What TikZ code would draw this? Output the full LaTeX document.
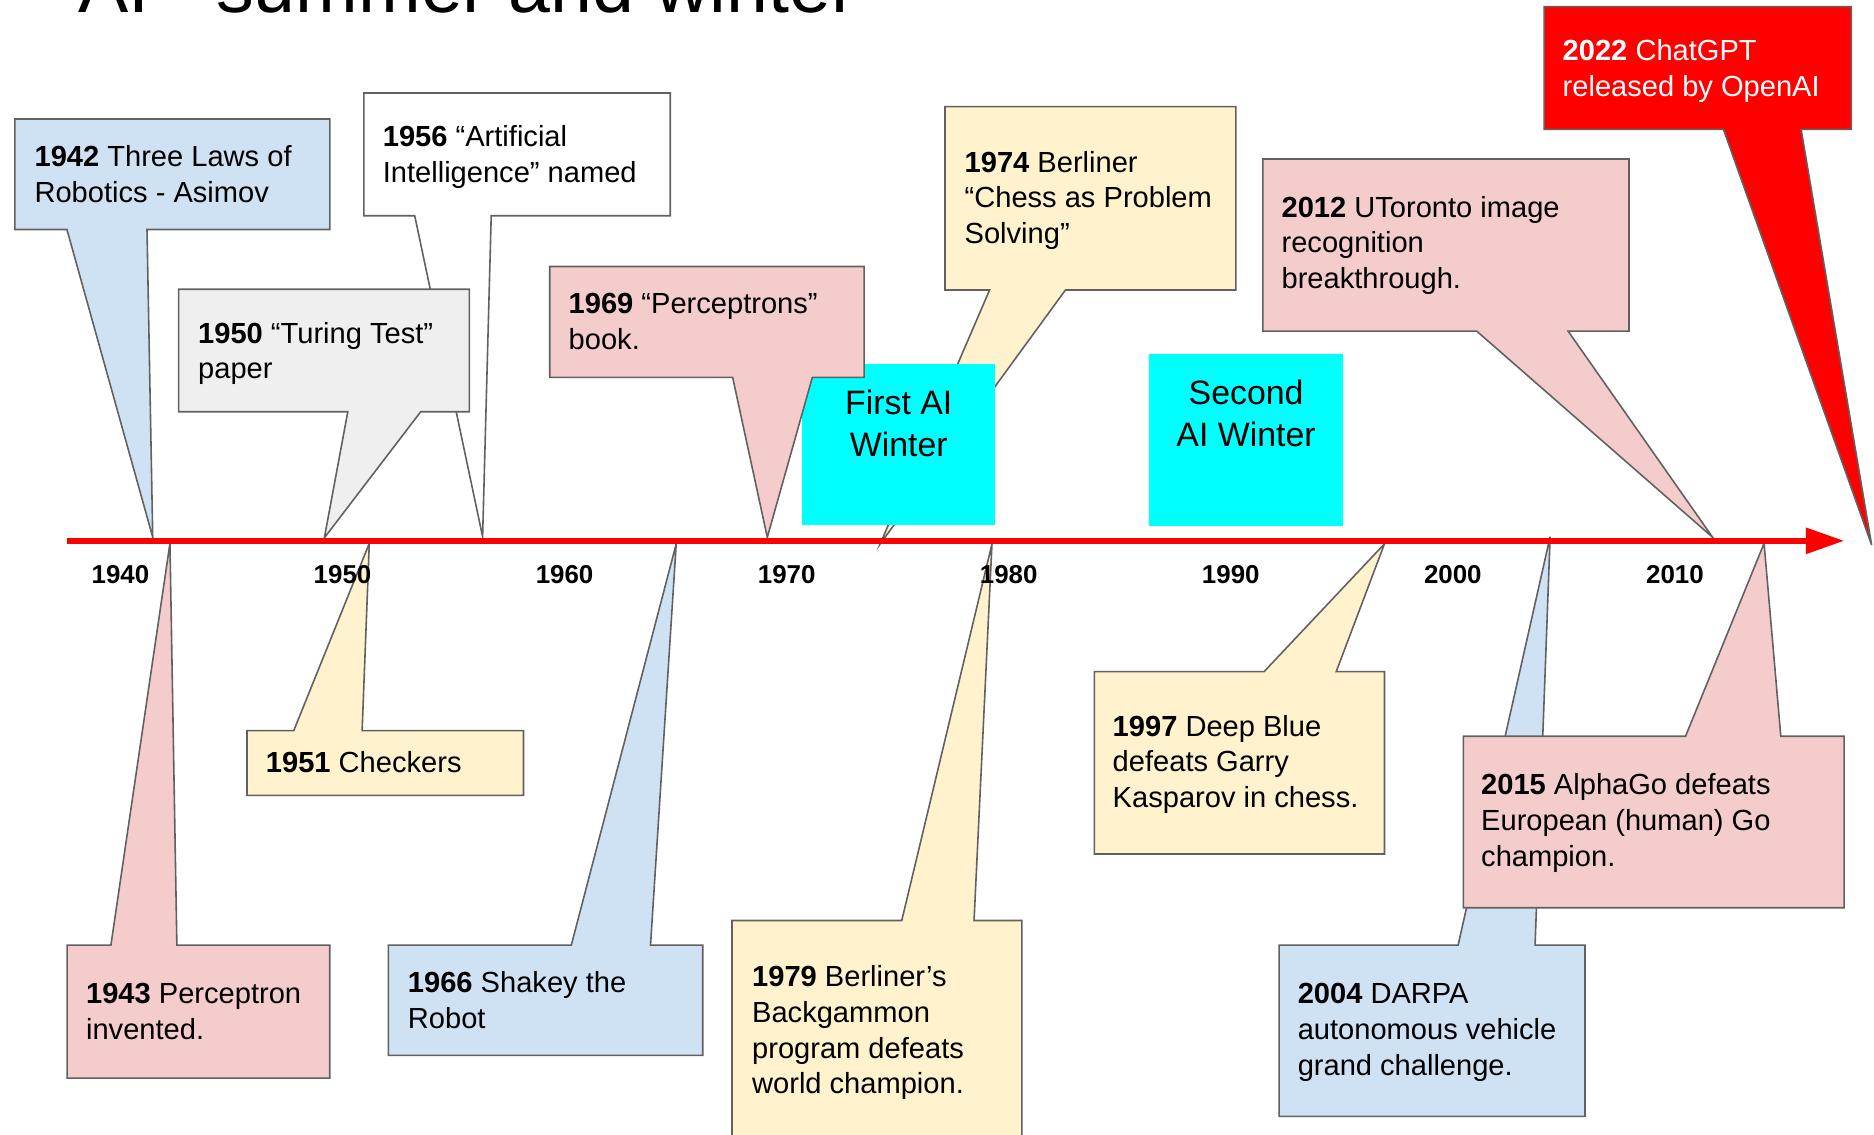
\documentclass[tikz,border=0pt]{standalone}
\usepackage{fontspec}
\setmainfont{Liberation Sans}
\definecolor{cblue}{HTML}{CFE2F3}
\definecolor{cpink}{HTML}{F4CCCC}
\definecolor{cyell}{HTML}{FFF2CC}
\definecolor{cgray}{HTML}{EFEFEF}
\definecolor{cline}{HTML}{616161}
\definecolor{wcyan}{HTML}{00FFFF}
\definecolor{tred}{HTML}{FF0000}
\newcommand{\cstrut}{\rule{0pt}{10.8pt}}
\newcommand{\wstrut}{\rule{0pt}{12.4pt}}
\begin{document}
\begin{tikzpicture}[x=0.6pt,y=-0.6pt,
  bubble/.style={draw=cline, line width=0.8pt, line join=miter},
  txt/.style={anchor=north west, inner sep=0pt, align=left, font=\fontsize{14.6}{18}\selectfont},
  yr/.style={anchor=base, inner sep=0pt, font=\fontsize{13}{15}\selectfont\bfseries},
  wintxt/.style={anchor=north, inner sep=0pt, align=center, font=\fontsize{17}{20.8}\selectfont},
  winbox/.style={fill=wcyan}]
\useasboundingbox (0,0) rectangle (1568,949);
\clip (0,0) rectangle (1568,949);

% title
\node[anchor=base west, inner sep=0pt, font=\fontsize{37.8}{40}\selectfont] (title) at (65,10.6) {AI - summer and winter};

% tips
\coordinate (t1942) at (127.8,449.5);
\coordinate (t1956) at (403.8,449);
\coordinate (t1950) at (271.4,450);
\coordinate (t1969) at (642,449.6);
\coordinate (t1974) at (736.5,455);
\coordinate (t2012) at (1433,449.6);
\coordinate (t2022) at (1566,456);
\coordinate (t1943) at (142.2,454.6);
\coordinate (t1951) at (309,454.6);
\coordinate (t1966) at (565.8,455);
\coordinate (t1979) at (830,455);
\coordinate (t1997) at (1158.4,455);
\coordinate (t2004) at (1297,449);
\coordinate (t2015) at (1476,454.6);

% ---- callouts above the axis
\filldraw[bubble, fill=cblue] (12.5,99.6) -- (276,99.6) -- (276,192) -- (123,192) -- (t1942) -- (56,192) -- (12.5,192) -- cycle;
\node[txt] (n1942) at (28.6,121) {\cstrut\textbf{1942} Three Laws of\\Robotics - Asimov};

\filldraw[bubble, fill=white] (304.5,77.8) -- (560.8,77.8) -- (560.8,180.5) -- (411,180.5) -- (t1956) -- (347,180.5) -- (304.5,180.5) -- cycle;
\node[txt] (n1956) at (320,104) {\cstrut\textbf{1956} “Artificial\\Intelligence” named};

\filldraw[bubble, fill=cgray] (149.5,242) -- (392.7,242) -- (392.7,344.5) -- (352,344.5) -- (t1950) -- (291,344.5) -- (149.5,344.5) -- cycle;
\node[txt] (n1950) at (165.5,268.7) {\cstrut\textbf{1950} “Turing Test”\\paper};

\filldraw[bubble, fill=cyell] (790.7,89.2) -- (1034,89.2) -- (1034,242.6) -- (891.5,242.6) -- (t1974) -- (828,242.6) -- (790.7,242.6) -- cycle;
\node[txt] (n1974) at (806.8,125.6) {\cstrut\textbf{1974} Berliner\\“Chess as Problem\\Solving”};

\fill[winbox] (671,304.6) rectangle (832.6,439.3);
\node[wintxt] (w1) at (752,326) {\wstrut First AI\\Winter};

\filldraw[bubble, fill=cpink] (460,223) -- (723,223) -- (723,315.7) -- (679.7,315.7) -- (t1969) -- (613,315.7) -- (460,315.7) -- cycle;
\node[txt] (n1969) at (475.5,244) {\cstrut\textbf{1969} “Perceptrons”\\book.};

\fill[winbox] (961.5,296) rectangle (1123.8,439.8);
\node[wintxt] (w2) at (1042.6,317.6) {\wstrut Second\\AI Winter};

\filldraw[bubble, fill=cpink] (1056.7,133) -- (1363,133) -- (1363,277) -- (1312,277) -- (t2012) -- (1235.5,277) -- (1056.7,277) -- cycle;
\node[txt] (n2012) at (1072,163.3) {\cstrut\textbf{2012} UToronto image\\recognition\\breakthrough.};

\filldraw[bubble, fill=tred] (1292,5.6) -- (1549,5.6) -- (1549,108.2) -- (1507,108.2) -- (t2022) -- (1442,108.2) -- (1292,108.2) -- cycle;
\node[txt, text=white] (n2022) at (1307.2,32.2) {\cstrut\textbf{2022} ChatGPT\\released by OpenAI};

% ---- callouts below the axis
\filldraw[bubble, fill=cpink] (56.2,790.8) -- (92.8,790.8) -- (t1943) -- (148,790.8) -- (275.9,790.8) -- (275.9,902) -- (56.2,902) -- cycle;
\node[txt] (n1943) at (71.7,821) {\cstrut\textbf{1943} Perceptron\\invented.};

\filldraw[bubble, fill=cyell] (206.7,611.3) -- (245.8,611.3) -- (t1951) -- (303,611.3) -- (438,611.3) -- (438,665.5) -- (206.7,665.5) -- cycle;
\node[txt] (n1951) at (222.2,628.2) {\cstrut\textbf{1951} Checkers};

\filldraw[bubble, fill=cblue] (325,790.8) -- (478,790.8) -- (t1966) -- (544.3,790.8) -- (588,790.8) -- (588,883) -- (325,883) -- cycle;
\node[txt] (n1966) at (341,812) {\cstrut\textbf{1966} Shakey the\\Robot};

\filldraw[bubble, fill=cyell] (612.5,770.2) -- (754.5,770.2) -- (t1979) -- (815,770.2) -- (855,770.2) -- (855,965) -- (612.5,965) -- cycle;
\node[txt] (n1979) at (629,807) {\cstrut\textbf{1979} Berliner’s\\Backgammon\\program defeats\\world champion.};

\filldraw[bubble, fill=cyell] (915.7,562) -- (1057.6,562) -- (t1997) -- (1118,562) -- (1158.4,562) -- (1158.4,714.5) -- (915.7,714.5) -- cycle;
\node[txt] (n1997) at (930.7,597.5) {\cstrut\textbf{1997} Deep Blue\\defeats Garry\\Kasparov in chess.};

\filldraw[bubble, fill=cblue] (1070.3,790.8) -- (1220,790.8) -- (t2004) -- (1284.4,790.8) -- (1326.2,790.8) -- (1326.2,934) -- (1070.3,934) -- cycle;
\node[txt] (n2004) at (1085.5,821.7) {\cstrut\textbf{2004} DARPA\\autonomous vehicle\\grand challenge.};

\filldraw[bubble, fill=cpink] (1224.4,616) -- (1410.3,616) -- (t2015) -- (1490,616) -- (1543,616) -- (1543,759.5) -- (1224.4,759.5) -- cycle;
\node[txt] (n2015) at (1239,646.6) {\cstrut\textbf{2015} AlphaGo defeats\\European (human) Go\\champion.};

% ---- axis
\coordinate (axL) at (56,452.5);
\coordinate (axB) at (1512,452.5);
\coordinate (axT) at (1542.5,452.5);
\draw[tred, line width=3.3pt] (axL) -- (axB);
\fill[tred] (1511,441.3) -- (axT) -- (1511,463.7) -- cycle;

\foreach \y [count=\i from 0] in {1940,1950,1960,1970,1980,1990,2000,2010} {
  \node[yr] (y\y) at (100.8+185.8*\i,488) {\y};
}
\end{tikzpicture}
\end{document}
